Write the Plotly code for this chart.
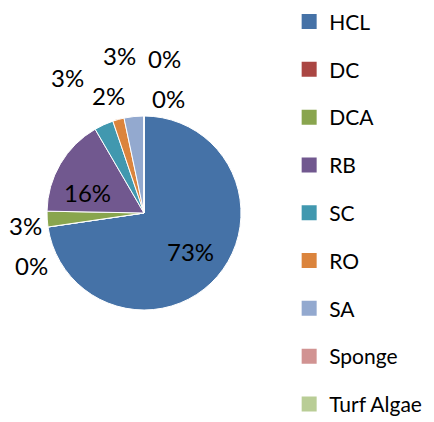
import math
import plotly.graph_objects as go

categories = ["HCL", "DC", "DCA", "RB", "SC", "RO", "SA", "Sponge", "Turf Algae"]
values = [72.7, 0, 2.6, 16.3, 3.2, 1.9, 3.3, 0, 0]
colors = ["#4572A7", "#AA4643", "#89A54E", "#71588F", "#4198AF",
          "#DB843D", "#93A9CF", "#D19392", "#B9CD96"]

# label placement styles (radius as fraction of pie radius, angle nudge in degrees)
label_rf = [0.62, 1.28, 1.23, 0.62, 1.60, 1.27, 1.64, 1.61, 1.21]
label_shift = [-1, -16.5, -2.5, -10, -5, -1.6, -3, 7.7, 11.8]

# page body has an 8px margin, so the figure is drawn at an 8px offset
W, H = 426, 414
CX, CY, R = 136, 205, 97
FONT = "Lato"

fig = go.Figure()
fig.add_trace(go.Pie(
    labels=categories, values=values, sort=False, direction="clockwise",
    rotation=0, marker=dict(colors=colors, line=dict(color="white", width=1)),
    textinfo="none", hoverinfo="label+percent", showlegend=False,
    domain=dict(x=[(CX - R) / W, (CX + R) / W], y=[1 - (CY + R) / H, 1 - (CY - R) / H]),
))

total = sum(values)
cum = 0
annotations = []
for i, v in enumerate(values):
    mid = (cum + v / 2) / total * 360
    cum += v
    th = math.radians(mid + label_shift[i])
    r = R * label_rf[i]
    px = CX + r * math.sin(th)
    py = CY - r * math.cos(th)
    annotations.append(dict(
        x=px / W, y=1 - py / H, xref="paper", yref="paper",
        text=f"{round(v / total * 100)}%", showarrow=False,
        font=dict(family=FONT, size=24, color="#000000"),
        xanchor="center", yanchor="middle",
    ))

for i, c in enumerate(categories):
    fig.add_trace(go.Scatter(
        x=[None], y=[None], mode="markers", name=c, legendgroup=c,
        marker=dict(symbol="square", size=15, color=colors[i]),
        showlegend=True,
    ))

fig.update_layout(
    width=W, height=H, margin=dict(l=0, r=0, t=0, b=0, autoexpand=False),
    paper_bgcolor="white", plot_bgcolor="white",
    xaxis=dict(visible=False), yaxis=dict(visible=False),
    annotations=annotations,
    legend=dict(x=0.66, y=1.016, xanchor="left", yanchor="top",
                font=dict(family=FONT, size=21, color="#000000"),
                tracegroupgap=17.5, itemwidth=30, bgcolor="rgba(0,0,0,0)",
                maxheight=600),
)

fig.write_html("out.html")
